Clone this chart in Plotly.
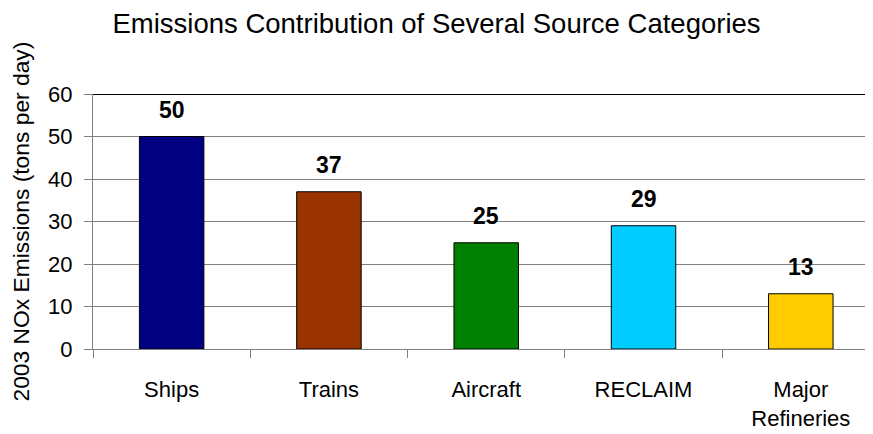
import plotly.graph_objects as go

categories = ["Ships", "Trains", "Aircraft", "RECLAIM", "Major<br>Refineries"]
values = [50, 37, 25, 29, 13]
colors = ["#000080", "#993300", "#008000", "#00CCFF", "#FFCC00"]
title_text = "Emissions Contribution of Several Source Categories"
y_title = "2003 NOx Emissions (tons per day)"
y_ticks = [0, 10, 20, 30, 40, 50, 60]

FONT = "Liberation Sans, Arial, sans-serif"

fig = go.Figure()
fig.add_trace(go.Bar(
    x=categories, y=values,
    marker=dict(color=colors, line=dict(color="#000000", width=1)),
    showlegend=False, hoverinfo="x+y",
))

for c, v in zip(categories, values):
    fig.add_annotation(x=c, y=v, text="<b>%d</b>" % v, showarrow=False,
                       yanchor="bottom", yshift=12,
                       font=dict(family=FONT, size=23, color="#000000"))

# top border line at 60
fig.add_shape(type="line", xref="paper", yref="y", x0=0, x1=1, y0=60, y1=60,
              line=dict(color="#000000", width=2))

fig.add_annotation(xref="paper", yref="paper", x=(12 - 85) / 780, y=0.5, text=y_title,
                   textangle=-90, showarrow=False, xanchor="center", yanchor="middle",
                   font=dict(family=FONT, size=22.8, color="#000000"))

fig.update_layout(
    width=865, height=426,
    margin=dict(l=85, r=0, t=86, b=85, autoexpand=False),
    paper_bgcolor="#FFFFFF", plot_bgcolor="#FFFFFF",
    bargap=0.59,
    title=dict(text=title_text, x=428.5 / 865, xref="container", xanchor="center",
               y=1 - 15 / 426, yref="container", yanchor="middle",
               font=dict(family=FONT, size=27.5, color="#000000")),
    font=dict(family=FONT, color="#000000"),
)
fig.update_xaxes(
    range=[-0.5, 4.459], tickson="boundaries", ticks="outside", ticklen=8,
    tickcolor="#808080", tickwidth=1, showline=True, linecolor="#808080", linewidth=1,
    showgrid=False, tickfont=dict(family=FONT, size=22, color="#000000"),
    ticklabelstandoff=21, automargin=False,
)
fig.update_yaxes(
    range=[0, 60], tickvals=y_ticks, ticks="outside", ticklen=8,
    tickcolor="#808080", tickwidth=1, showline=True, linecolor="#808080", linewidth=1,
    showgrid=True, gridcolor="#808080", gridwidth=1, zeroline=False,
    tickfont=dict(family=FONT, size=22, color="#000000"),
    ticklabelstandoff=7, automargin=False,
)

fig.write_html("out.html")
